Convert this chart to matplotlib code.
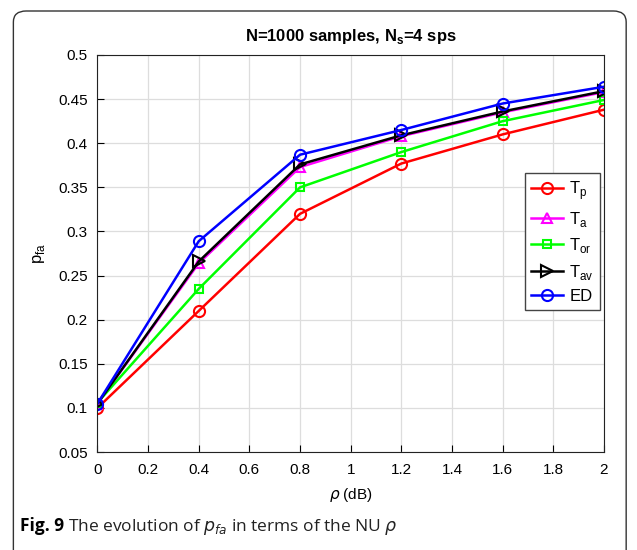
import numpy as np
import matplotlib
matplotlib.use("Agg")
import matplotlib.pyplot as plt
from matplotlib.patches import FancyBboxPatch

rho = [0, 0.4, 0.8, 1.2, 1.6, 2.0]
tp = [0.100, 0.210, 0.320, 0.377, 0.410, 0.438]
ta = [0.105, 0.264, 0.373, 0.408, 0.435, 0.458]
tor = [0.106, 0.235, 0.350, 0.390, 0.425, 0.449]
tav = [0.105, 0.266, 0.376, 0.409, 0.436, 0.459]
ed = [0.105, 0.289, 0.387, 0.415, 0.445, 0.464]

series = [
    (tp, r'T$_\mathregular{p}$', 'red', 'o', 8),
    (ta, r'T$_\mathregular{a}$', 'magenta', '^', 7),
    (tor, r'T$_\mathregular{or}$', 'lime', 's', 6),
    (tav, r'T$_\mathregular{av}$', 'black', '>', 8),
    (ed, 'ED', 'blue', 'o', 8),
]

plt.rcParams['font.family'] = ['Liberation Sans', 'DejaVu Sans']

fig = plt.figure(figsize=(6.37, 5.5), dpi=100)
ax = fig.add_axes([0.153, 0.178, 0.795, 0.722])

# rounded frame around the panel
frame = FancyBboxPatch((0.021, -0.1), 0.962, 1.08, transform=fig.transFigure,
                       boxstyle="round,pad=0,rounding_size=0.02",
                       fill=False, edgecolor='#333333', linewidth=1.0)
fig.patches.append(frame)

for vals, lab, col, mk, ms in series:
    ax.plot(rho, vals, color=col, marker=mk, markersize=ms, markerfacecolor='none',
            markeredgewidth=1.5, linewidth=1.8, label=lab)

ax.set_xlim(0, 2)
ax.set_ylim(0.05, 0.5)
ax.set_xticks(np.arange(0, 2.01, 0.2))
ax.set_xticklabels(['0', '0.2', '0.4', '0.6', '0.8', '1', '1.2', '1.4', '1.6', '1.8', '2'])
ax.set_yticks(np.arange(0.05, 0.501, 0.05))
ax.set_yticklabels(['0.05', '0.1', '0.15', '0.2', '0.25', '0.3', '0.35', '0.4', '0.45', '0.5'])
ax.tick_params(direction='in', labelsize=11, length=5, top=False, right=False)
ax.tick_params(axis='x', pad=8)
ax.tick_params(axis='y', pad=7)
ax.grid(True, color='#dddddd', linewidth=0.9)
for s in ax.spines.values():
    s.set_color('#222222')

ax.set_title(r'N=1000 samples, N$_\mathregular{s}$=4 sps', fontsize=12, fontweight='bold', pad=10)
ax.set_xlabel(r'$\rho$ (dB)', fontsize=11, labelpad=6)
ax.set_ylabel(r'p$_\mathregular{fa}$', fontsize=12, labelpad=8)

leg = ax.legend(loc='center right', bbox_to_anchor=(1.0, 0.53), borderaxespad=0.25,
                fontsize=12, fancybox=False, edgecolor='#444444', framealpha=1,
                handlelength=1.9, handletextpad=0.4, borderpad=0.35, labelspacing=0.45)
leg.get_frame().set_linewidth(1.0)

fig.text(0.032, 0.035, 'Fig. 9', fontsize=12.5, fontweight='bold', family='Open Sans')
fig.text(0.106, 0.035, r'The evolution of $p_{fa}$ in terms of the NU $\rho$', fontsize=12.5,
         family='Open Sans', color='#222222')

fig.savefig('out.png', dpi=100)
